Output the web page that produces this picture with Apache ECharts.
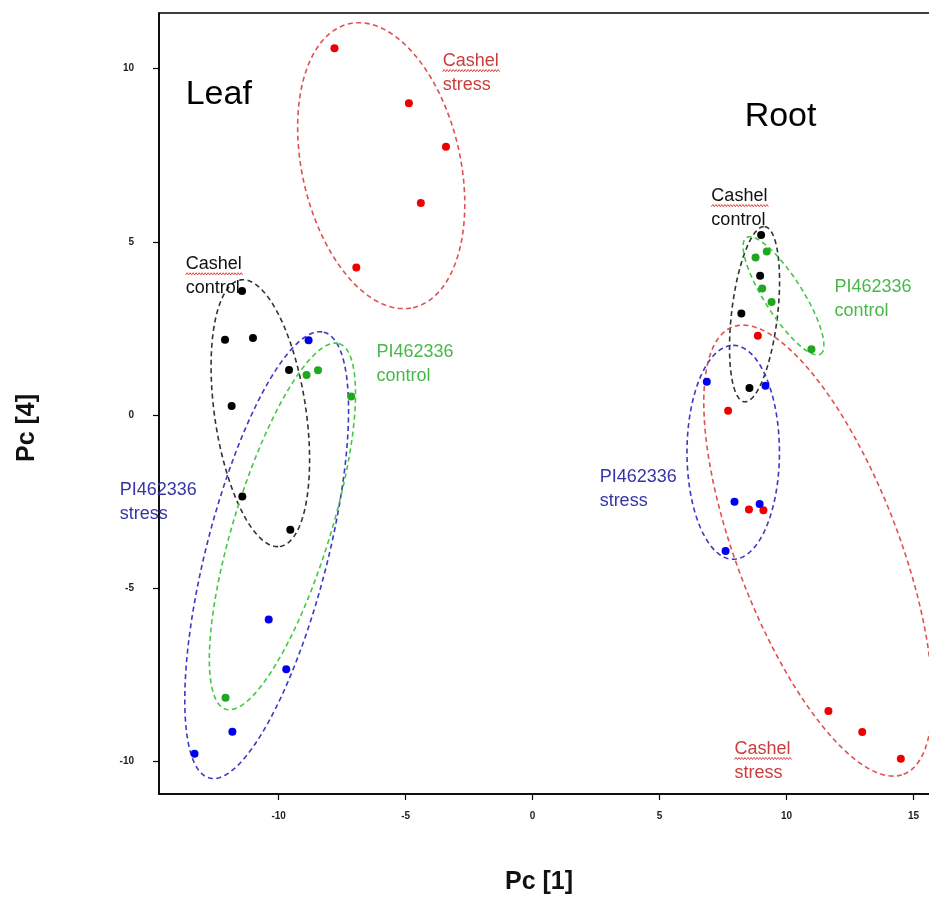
<!DOCTYPE html>
<html>
<head>
<meta charset="utf-8">
<script src="https://cdn.jsdelivr.net/npm/echarts@6/dist/echarts.min.js"></script>
<style>
  html, body { margin: 0; padding: 0; background: #fff; overflow: hidden; width: 929px; height: 924px; }
  #chart { width: 1000px; height: 924px; }
</style>
</head>
<body>
<div id="chart"></div>
<script>
// PCA scores: Pc [1] (x) vs Pc [4] (y), one array per tissue / genotype / treatment
const leafCashelStress  = [[-7.80, 10.59], [-4.87, 9.00], [-3.41, 7.75], [-4.40, 6.12], [-6.94, 4.26]];
const leafCashelControl = [[-11.44, 3.58], [-12.11, 2.17], [-11.01, 2.22], [-9.59, 1.30], [-11.85, 0.26], [-11.43, -2.36], [-9.54, -3.32]];
const leafPIControl     = [[-8.90, 1.15], [-8.45, 1.29], [-7.14, 0.53], [-12.09, -8.17]];
const leafPIStress      = [[-8.82, 2.16], [-10.39, -5.91], [-9.70, -7.35], [-11.82, -9.15], [-13.31, -9.79]];
const rootCashelControl = [[9.00, 5.20], [8.96, 4.02], [8.22, 2.93], [8.54, 0.78]];
const rootPIControl     = [[9.22, 4.72], [8.78, 4.55], [9.04, 3.65], [9.41, 3.26], [10.98, 1.90]];
const rootCashelStress  = [[8.87, 2.29], [7.70, 0.12], [8.52, -2.73], [9.09, -2.75], [11.65, -8.55], [12.98, -9.16], [14.50, -9.93]];
const rootPIStress      = [[6.86, 0.96], [9.17, 0.84], [7.95, -2.51], [8.94, -2.57], [7.60, -3.93]];

// Group ellipses: centre, end of the long half-axis, end of the short half-axis (data units)
const ellipseGroups  = ['Cashel stress', 'Cashel control', 'PI462336 stress', 'PI462336 control',
                        'Cashel control', 'PI462336 control', 'PI462336 stress', 'Cashel stress'];
const ellipseCentres = [[-5.96, 7.20], [-10.72, 0.05], [-10.47, -4.05], [-9.85, -3.22],
                        [8.74, 2.91], [9.88, 3.44], [7.90, -1.08], [11.24, -3.92]];
const ellipseLongEnd = [[-4.70, 3.10], [-9.95, -3.80], [-8.22, 2.39], [-7.62, 2.06],
                        [9.14, 5.44], [11.34, 1.76], [7.90, 2.01], [14.61, -10.38]];
const ellipseShortEnd = [[-2.92, 7.70], [-8.94, 0.24], [-8.16, -4.48], [-8.03, -3.63],
                        [9.64, 2.84], [10.51, 3.74], [9.72, -1.08], [14.22, -3.08]];

// Group labels (first line anchored at the given data position)
const labelLines = [['Leaf'], ['Root'],
  ['Cashel', 'stress'], ['Cashel', 'control'], ['PI462336', 'control'], ['PI462336', 'stress'],
  ['Cashel', 'control'], ['PI462336', 'control'], ['PI462336', 'stress'], ['Cashel', 'stress']];
const labelGroups = ['title', 'title',
  'Cashel stress', 'Cashel control', 'PI462336 control', 'PI462336 stress',
  'Cashel control', 'PI462336 control', 'PI462336 stress', 'Cashel stress'];
const labelAnchors = [[-13.66, 9.26], [8.35, 8.61],
  [-3.54, 10.22], [-13.66, 4.35], [-6.15, 1.81], [-16.26, -2.16],
  [7.04, 6.32], [11.89, 3.70], [2.64, -1.79], [7.95, -9.65]];

const xTicks = [-10, -5, 0, 5, 10, 15];
const yTicks = [-10, -5, 0, 5, 10];
const xTitle = 'Pc [1]';
const yTitle = 'Pc [4]';

// Styling
const FONT = '"Liberation Sans", Arial, sans-serif';
const pointColor = {
  'Cashel stress': '#ee0000', 'Cashel control': '#000000',
  'PI462336 stress': '#0000ee', 'PI462336 control': '#1fa81f'
};
const ringColor = {
  'Cashel stress': '#e05050', 'Cashel control': '#333333',
  'PI462336 stress': '#3a3ac4', 'PI462336 control': '#44c844'
};
const textColor = {
  'title': '#000000',
  'Cashel stress': '#cc3c3c', 'Cashel control': '#111111',
  'PI462336 stress': '#3535a8', 'PI462336 control': '#48b848'
};

function scatter(name, data) {
  return {
    type: 'scatter', name: name, data: data, symbol: 'circle', symbolSize: 8,
    itemStyle: { color: pointColor[name], opacity: 1 }, z: 5, silent: true
  };
}

const chart = echarts.init(document.getElementById('chart'), null, { renderer: 'canvas' });

const ellipseData = ellipseCentres.map((c, i) =>
  [c[0], c[1], ellipseLongEnd[i][0], ellipseLongEnd[i][1], ellipseShortEnd[i][0], ellipseShortEnd[i][1]]);

const labelData = labelAnchors.map((a, i) => [a[0], a[1], i]);

const axisCommon = {
  type: 'value',
  splitLine: { show: false },
  axisLine: { show: true, onZero: false, lineStyle: { color: '#000', width: 1.5 } }
};

chart.setOption({
  animation: false,
  backgroundColor: '#ffffff',
  grid: { left: 159, top: 13, right: 40, bottom: 130, show: true, borderColor: '#000', borderWidth: 1.5, backgroundColor: 'transparent' },
  xAxis: Object.assign({}, axisCommon, {
    min: -14.71, max: 16.83,
    axisTick: { show: true, length: 6, inside: false, customValues: xTicks, lineStyle: { color: '#000', width: 1.2 } },
    axisLabel: { customValues: xTicks, margin: 17, color: '#222', fontSize: 10, fontFamily: FONT, fontWeight: 'bold' }
  }),
  yAxis: Object.assign({}, axisCommon, {
    min: -10.95, max: 11.61,
    axisTick: { show: true, length: 6, inside: false, customValues: yTicks, lineStyle: { color: '#000', width: 1.2 } },
    axisLabel: { customValues: yTicks, margin: 25, color: '#222', fontSize: 10, fontFamily: FONT, fontWeight: 'bold' }
  }),
  graphic: [
    { type: 'text', x: 539, y: 882, style: { text: xTitle, font: 'bold 25px ' + FONT, fill: '#111', align: 'center', verticalAlign: 'middle' } },
    { type: 'text', x: 27, y: 428, rotation: Math.PI / 2, style: { text: yTitle, font: 'bold 25px ' + FONT, fill: '#111', align: 'center', verticalAlign: 'middle' } }
  ],
  series: [
    {
      type: 'custom', name: 'ellipses', data: ellipseData, silent: true, z: 3,
      renderItem: function (params, api) {
        const c = api.coord([api.value(0), api.value(1)]);
        const p = api.coord([api.value(2), api.value(3)]);
        const q = api.coord([api.value(4), api.value(5)]);
        const ux = p[0] - c[0], uy = p[1] - c[1], vx = q[0] - c[0], vy = q[1] - c[1];
        const pts = [];
        const n = 200;
        for (let i = 0; i <= n; i++) {
          const t = i / n * 2 * Math.PI;
          pts.push([c[0] + ux * Math.cos(t) + vx * Math.sin(t), c[1] + uy * Math.cos(t) + vy * Math.sin(t)]);
        }
        return {
          type: 'polyline', shape: { points: pts },
          style: { stroke: ringColor[ellipseGroups[params.dataIndex]], lineWidth: 1.6, lineDash: [5, 3.5], fill: null }
        };
      }
    },
    scatter('Cashel stress', leafCashelStress),
    scatter('Cashel control', leafCashelControl),
    scatter('PI462336 control', leafPIControl),
    scatter('PI462336 stress', leafPIStress),
    scatter('Cashel control', rootCashelControl),
    scatter('PI462336 control', rootPIControl),
    scatter('Cashel stress', rootCashelStress),
    scatter('PI462336 stress', rootPIStress),
    {
      type: 'custom', name: 'labels', data: labelData, silent: true, z: 4,
      renderItem: function (params, api) {
        const idx = api.value(2);
        const c = api.coord([api.value(0), api.value(1)]);
        const lines = labelLines[idx];
        const group = labelGroups[idx];
        const isTitle = group === 'title';
        const size = isTitle ? 34 : 18;
        const children = lines.map((line, k) => ({
          type: 'text', x: c[0], y: c[1] + k * 24,
          style: { text: line, font: size + 'px ' + FONT, fill: textColor[group], align: 'left', verticalAlign: 'middle' }
        }));
        if (lines[0] === 'Cashel') {
          // red wavy spell-check underline below "Cashel"
          const pts = [];
          const y0 = c[1] + 9.5;
          for (let k = 0; k <= 38; k++) pts.push([c[0] + k * 1.5, y0 + (k % 2 ? -1.1 : 1.1)]);
          children.push({ type: 'polyline', shape: { points: pts }, style: { stroke: '#e03030', lineWidth: 0.9, fill: null } });
        }
        return { type: 'group', children: children };
      }
    }
  ]
});
</script>
</body>
</html>
